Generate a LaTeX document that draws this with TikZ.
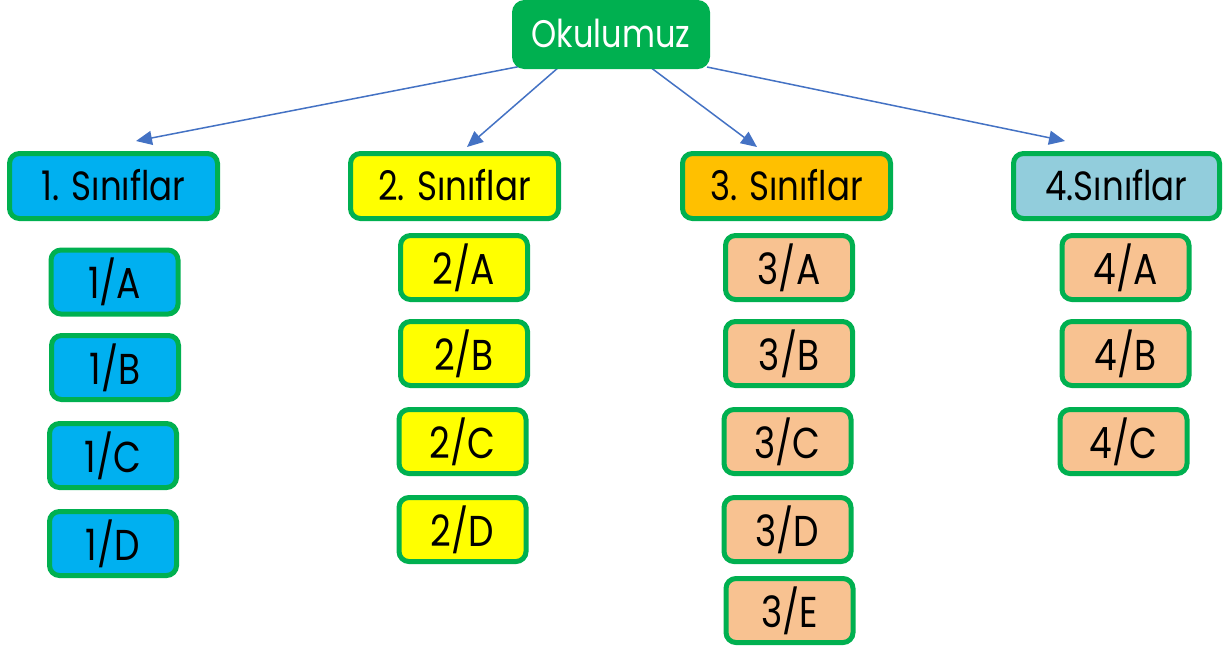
\documentclass[tikz,border=0pt]{standalone}
\usepackage{fontspec}
\setmainfont{Poppins}
\usetikzlibrary{arrows.meta,backgrounds}
\definecolor{bgreen}{HTML}{00B050}
\definecolor{cblue}{HTML}{00B0F0}
\definecolor{cyellow}{HTML}{FFFF00}
\definecolor{corange}{HTML}{FFC000}
\definecolor{clight}{HTML}{92CDDC}
\definecolor{cpeach}{HTML}{F8C291}
\definecolor{arrowc}{HTML}{4472C4}
\newcommand\tallt[1]{\raisebox{2pt}{\scalebox{1}[1.2]{#1}}}
\begin{document}
\begin{tikzpicture}[x=1pt,y=-1pt,
  box/.style={draw=bgreen,line width=5pt,rounded corners=10pt,inner sep=0pt,
    font=\fontsize{34}{34}\selectfont},
  headbox/.style={box,minimum width=208pt,minimum height=65pt},
  subbox/.style={box,minimum width=127pt,minimum height=64pt,font=\fontsize{36}{36}\selectfont},
  arr/.style={draw=arrowc,line width=1.5pt,-{Triangle[length=16pt,width=14pt]}}]
\useasboundingbox (0,0) rectangle (1230,649);
\node[box,fill=bgreen,text=white,minimum width=193pt,minimum height=64pt,font=\fontsize{32}{32}\selectfont] (ok) at (611,34.5) {\tallt{Okulumuz}};
\node[headbox,fill=cblue] (c1) at (113.5,186) {\tallt{1. Sınıflar}};
\node[headbox,fill=cyellow] (c2) at (454.5,186) {\tallt{2. Sınıflar}};
\node[headbox,fill=corange] (c3) at (786.5,186) {\tallt{3. Sınıflar}};
\node[headbox,fill=clight,minimum width=206pt] (c4) at (1116.5,186) {\tallt{4.Sınıflar}};
\node[subbox,fill=cblue] (a1) at (114.5,282) {\tallt{1/A}};
\node[subbox,fill=cblue] (b1) at (115,367.5) {\tallt{1/B}};
\node[subbox,fill=cblue] (cc1) at (113,455.5) {\tallt{1/C}};
\node[subbox,fill=cblue] (d1) at (113,543.5) {\tallt{1/D}};
\node[subbox,fill=cyellow] (a2) at (464,267.5) {\tallt{2/A}};
\node[subbox,fill=cyellow] (b2) at (464,353.5) {\tallt{2/B}};
\node[subbox,fill=cyellow] (cc2) at (462.5,441.5) {\tallt{2/C}};
\node[subbox,fill=cyellow] (d2) at (462.5,529.5) {\tallt{2/D}};
\node[subbox,fill=cpeach] (a3) at (789,267.5) {\tallt{3/A}};
\node[subbox,fill=cpeach] (b3) at (789,353.5) {\tallt{3/B}};
\node[subbox,fill=cpeach] (cc3) at (787.5,441.5) {\tallt{3/C}};
\node[subbox,fill=cpeach] (d3) at (787.5,529.5) {\tallt{3/D}};
\node[subbox,fill=cpeach] (e3) at (789.5,610.5) {\tallt{3/E}};
\node[subbox,fill=cpeach] (a4) at (1125.5,267.5) {\tallt{4/A}};
\node[subbox,fill=cpeach] (b4) at (1125.5,353.5) {\tallt{4/B}};
\node[subbox,fill=cpeach] (cc4) at (1123.5,441.5) {\tallt{4/C}};
\begin{scope}[on background layer]
\fill[white] (0,0) rectangle (1230,649);
\draw[arr] ([xshift=-84pt,yshift=4pt]ok.south) -- ([xshift=22.5pt,yshift=10pt]c1.north);
\draw[arr] ([xshift=-52pt,yshift=2pt]ok.south) -- ([xshift=12.5pt,yshift=4pt]c2.north);
\draw[arr] ([xshift=39pt,yshift=2pt]ok.south) -- ([xshift=-29.5pt,yshift=4pt]c3.north);
\draw[arr] ([xshift=96pt,yshift=2pt]ok.south) -- ([xshift=-51.5pt,yshift=10pt]c4.north);
\end{scope}
\end{tikzpicture}
\end{document}
